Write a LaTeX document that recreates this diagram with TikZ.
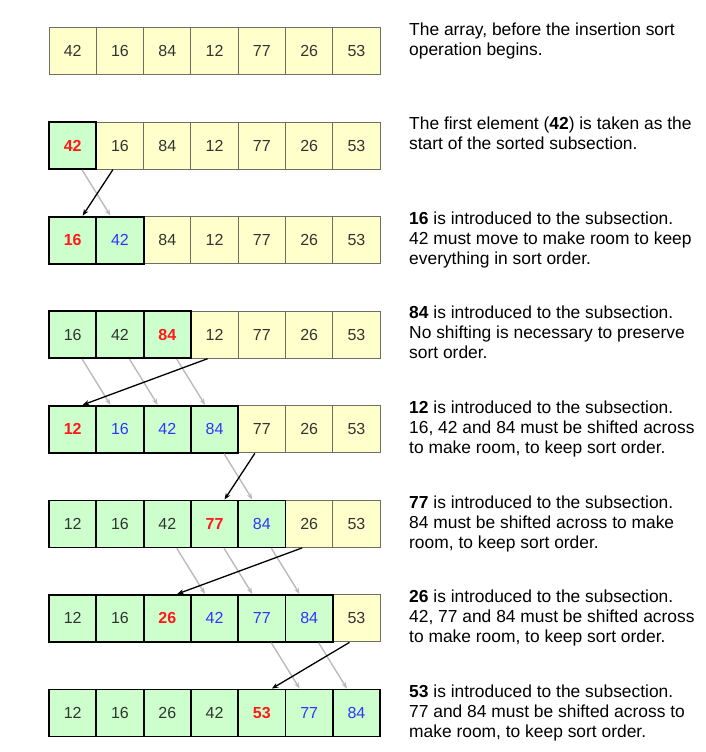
\documentclass[tikz,border=0pt]{standalone}
\usepackage{fontspec}
\setmainfont{Liberation Sans}
\usetikzlibrary{arrows.meta}
\definecolor{cy}{HTML}{FFFFCC}
\definecolor{cg}{HTML}{CCFFCC}
\definecolor{tdark}{HTML}{333333}
\definecolor{tred}{HTML}{FF1A1A}
\definecolor{tblue}{HTML}{3333FF}
\definecolor{ygrid}{HTML}{6F6F60}
\definecolor{garr}{HTML}{BBBBBB}
\begin{document}
\begin{tikzpicture}[x=1bp,y=-1bp,
 cellbase/.style={minimum width=47.3bp, minimum height=47bp, inner sep=0pt, font=\fontsize{16bp}{18bp}\selectfont, text=tdark},
 cellY/.style={cellbase, fill=cy, draw=ygrid, line width=1bp},
 cellG/.style={cellbase, fill=cg, draw=black, line width=1.8bp},
 cellR/.style={cellG, text=tred, font=\fontsize{16bp}{18bp}\selectfont\bfseries},
 cellB/.style={cellG, text=tblue},
 desc/.style={anchor=north west, inner sep=0pt, align=left, font=\fontsize{17.4bp}{20bp}\selectfont, text=black},
 movearr/.style={draw=garr, line width=1.4bp, -{Stealth[length=6.5bp,width=5bp]}},
 insarr/.style={draw=black, line width=1.3bp, -{Stealth[length=6.5bp,width=5bp]}},
]
\useasboundingbox (0,0) rectangle (706,752);
\fill[white] (0,0) rectangle (706,752);

% rows (drawn right to left so thick green borders stay on top)
\foreach \i/\v/\s in {6/53/Y,5/26/Y,4/77/Y,3/12/Y,2/84/Y,1/16/Y,0/42/Y}
  \node[cell\s] (c0-\i) at (72.65+47.3*\i,51) {\v};
\foreach \i/\v/\s in {6/53/Y,5/26/Y,4/77/Y,3/12/Y,2/84/Y,1/16/Y,0/42/R}
  \node[cell\s] (c1-\i) at (72.65+47.3*\i,145.6) {\v};
\foreach \i/\v/\s in {6/53/Y,5/26/Y,4/77/Y,3/12/Y,2/84/Y,1/42/B,0/16/R}
  \node[cell\s] (c2-\i) at (72.65+47.3*\i,240.1) {\v};
\foreach \i/\v/\s in {6/53/Y,5/26/Y,4/77/Y,3/12/Y,2/84/R,1/42/G,0/16/G}
  \node[cell\s] (c3-\i) at (72.65+47.3*\i,334.7) {\v};
\foreach \i/\v/\s in {6/53/Y,5/26/Y,4/77/Y,3/84/B,2/42/B,1/16/B,0/12/R}
  \node[cell\s] (c4-\i) at (72.65+47.3*\i,429.3) {\v};
\foreach \i/\v/\s in {6/53/Y,5/26/Y,4/84/B,3/77/R,2/42/G,1/16/G,0/12/G}
  \node[cell\s] (c5-\i) at (72.65+47.3*\i,523.9) {\v};
\foreach \i/\v/\s in {6/53/Y,5/84/B,4/77/B,3/42/B,2/26/R,1/16/G,0/12/G}
  \node[cell\s] (c6-\i) at (72.65+47.3*\i,618.4) {\v};
\foreach \i/\v/\s in {6/84/B,5/77/B,4/53/R,3/42/G,2/26/G,1/16/G,0/12/G}
  \node[cell\s] (c7-\i) at (72.65+47.3*\i,713) {\v};

% shifting arrows (grey)
\foreach \a/\b/\c/\d in {1/0/2/1, 3/0/4/1, 3/1/4/2, 3/2/4/3, 4/3/5/4, 5/2/6/3, 5/3/6/4, 5/4/6/5, 6/4/7/5, 6/5/7/6}
  \draw[movearr] ([xshift=9.5bp]c\a-\b.south) -- ([xshift=-9.5bp]c\c-\d.north);
% insertion arrows (black)
\foreach \a/\b/\c/\d in {1/1/2/0, 3/3/4/0, 4/4/5/3, 5/5/6/2, 6/6/7/4}
  \draw[insarr] ([xshift=-7bp]c\a-\b.south) -- ([xshift=10bp]c\c-\d.north);

% descriptions
\node[desc] (t0) at (409,21) {\rule{0pt}{14bp}The array, before the insertion sort\\operation begins.};
\node[desc] (t1) at (409,115.6) {\rule{0pt}{14bp}The first element (\textbf{42}) is taken as the\\start of the sorted subsection.};
\node[desc] (t2) at (409,210.1) {\rule{0pt}{14bp}\textbf{16} is introduced to the subsection.\\42 must move to make room to keep\\everything in sort order.};
\node[desc] (t3) at (409,304.7) {\rule{0pt}{14bp}\textbf{84} is introduced to the subsection.\\No shifting is necessary to preserve\\sort order.};
\node[desc] (t4) at (409,399.3) {\rule{0pt}{14bp}\textbf{12} is introduced to the subsection.\\16, 42 and 84 must be shifted across\\to make room, to keep sort order.};
\node[desc] (t5) at (409,493.9) {\rule{0pt}{14bp}\textbf{77} is introduced to the subsection.\\84 must be shifted across to make\\room, to keep sort order.};
\node[desc] (t6) at (409,588.4) {\rule{0pt}{14bp}\textbf{26} is introduced to the subsection.\\42, 77 and 84 must be shifted across\\to make room, to keep sort order.};
\node[desc] (t7) at (409,683) {\rule{0pt}{14bp}\textbf{53} is introduced to the subsection.\\77 and 84 must be shifted across to\\make room, to keep sort order.};
\end{tikzpicture}
\end{document}
